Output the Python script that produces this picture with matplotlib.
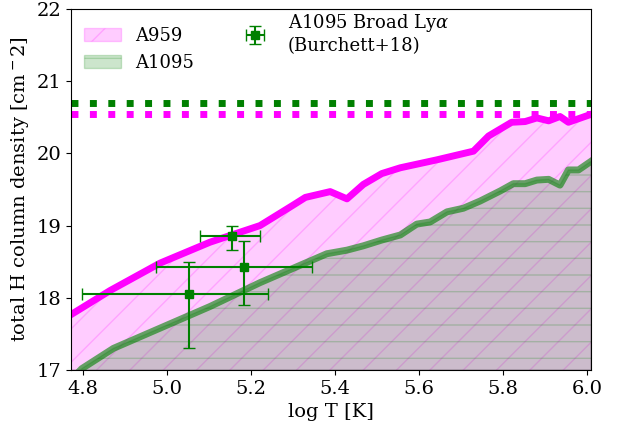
import matplotlib
matplotlib.use("Agg")
import matplotlib.pyplot as plt

plt.rcParams["font.family"] = "DejaVu Serif"
plt.rcParams["mathtext.fontset"] = "dejavuserif"

# A959 upper curve (log T, log N_H)
a959_logT = [4.77, 4.865, 4.984, 5.103, 5.222, 5.30, 5.33, 5.389, 5.429, 5.468,
             5.512, 5.556, 5.643, 5.730, 5.766, 5.821, 5.853, 5.881, 5.909,
             5.936, 5.956, 6.01]
a959_logN = [17.76, 18.10, 18.48, 18.77, 19.00, 19.28, 19.39, 19.47, 19.37, 19.57,
             19.72, 19.80, 19.91, 20.03, 20.24, 20.43, 20.44, 20.49, 20.45,
             20.51, 20.43, 20.54]

# A1095 curve
a1095_logT = [4.77, 4.798, 4.873, 4.984, 5.103, 5.222, 5.381, 5.429, 5.468, 5.512,
              5.556, 5.595, 5.627, 5.667, 5.706, 5.746, 5.794, 5.825, 5.853,
              5.881, 5.909, 5.936, 5.956, 5.98, 6.01]
a1095_logN = [16.85, 17.02, 17.30, 17.58, 17.88, 18.21, 18.61, 18.66, 18.72, 18.80,
              18.87, 19.02, 19.05, 19.19, 19.24, 19.34, 19.48, 19.58, 19.58,
              19.63, 19.64, 19.56, 19.77, 19.77, 19.89]

# observed column densities (dotted lines)
obs_a959 = 20.54
obs_a1095 = 20.70

# Burchett+18 broad Lya points
bla_logT = [5.054, 5.184, 5.155]
bla_logT_lo = [0.256, 0.209, 0.076]
bla_logT_hi = [0.186, 0.161, 0.067]
bla_logN = [18.05, 18.43, 18.85]
bla_logN_lo = [0.74, 0.53, 0.19]
bla_logN_hi = [0.45, 0.35, 0.15]

XLIM = (4.772, 6.01)
YMIN = 17.0


def main():
    fig = plt.figure(figsize=(6.17, 4.21), dpi=100)
    ax = fig.add_axes([0.115, 0.121, 0.843, 0.858])

    ax.fill_between(a959_logT, YMIN, a959_logN, color="magenta", alpha=0.2,
                    hatch="/", label="A959")
    ax.plot(a959_logT, a959_logN, color="magenta", lw=5)

    ax.fill_between(a1095_logT, YMIN, a1095_logN, color="green", alpha=0.2,
                    hatch="-", label="A1095")
    ax.plot(a1095_logT, a1095_logN, color="green", lw=5, alpha=0.6)

    ax.axhline(obs_a1095, color="green", ls=":", lw=5)
    ax.axhline(obs_a959, color="magenta", ls=":", lw=5)

    ax.errorbar(bla_logT, bla_logN,
                xerr=[bla_logT_lo, bla_logT_hi],
                yerr=[bla_logN_lo, bla_logN_hi],
                fmt="s", color="green", ms=5.5, capsize=4, lw=1.5,
                label="A1095 Broad Ly$\\alpha$\n(Burchett+18)")

    ax.set_xlim(*XLIM)
    ax.set_ylim(17, 22)
    ax.set_xticks([4.8, 5.0, 5.2, 5.4, 5.6, 5.8, 6.0])
    ax.tick_params(labelsize=14)
    ax.set_xlabel("log T [K]", fontsize=14)
    ax.set_ylabel("total H column density [cm$^-2$]", fontsize=14)
    ax.legend(loc="upper left", ncol=2, frameon=False, fontsize=13,
              bbox_to_anchor=(0.005, 1.02), borderaxespad=0.2,
              columnspacing=2.4)

    fig.savefig("out.png", dpi=100)


if __name__ == "__main__":
    main()
